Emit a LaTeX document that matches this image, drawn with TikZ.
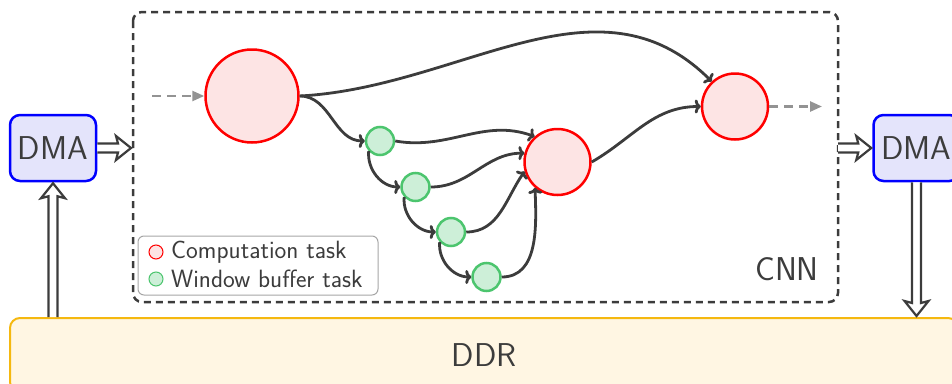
\documentclass[tikz,border=0pt]{standalone}
\usetikzlibrary{arrows.meta,calc}
\definecolor{ink}{HTML}{3C3C3C}
\definecolor{compfill}{HTML}{FDE4E4}
\definecolor{bufffill}{HTML}{CDEFD8}
\definecolor{buffline}{HTML}{4CC56E}
\definecolor{dmafill}{HTML}{E4E4FB}
\definecolor{ddrfill}{HTML}{FFF6E3}
\definecolor{ddrline}{HTML}{F5B80F}
\tikzset{
  bigfont/.style={font=\sffamily\fontsize{33}{38}\selectfont, text=ink},
  legfont/.style={font=\sffamily\fontsize{25}{28}\selectfont, text=ink},
  comp/.style={circle, draw=red, fill=compfill, line width=2.5pt, inner sep=0pt},
  buff/.style={circle, draw=buffline, fill=bufffill, line width=2.5pt, inner sep=0pt, minimum size=28pt},
  dmabox/.style={draw=blue, fill=dmafill, line width=2.5pt, rounded corners=10pt,
    minimum width=86pt, minimum height=66pt, bigfont},
  flow/.style={draw=ink, line width=2.8pt, -{To[length=6pt,width=14pt]}},
  extflow/.style={draw=gray!85, line width=2.5pt, dash pattern=on 9pt off 6pt,
    -{Triangle[length=12pt,width=10pt]}},
  hollow/.style={draw=ink, fill=white, line width=2.2pt, line join=miter},
}
% hollow block arrow from #1 to #2
\newcommand\blockarrow[2]{%
  \draw[hollow] let \p1=(#1), \p2=(#2),
      \n1={atan2(\y2-\y1,\x2-\x1)}, \n2={veclen(\x2-\x1,\y2-\y1)} in
    [shift={(\p1)}, rotate=\n1]
    (0pt,-4.5pt) -- (\n2-14pt,-4.5pt) -- (\n2-16pt,-12pt) -- (\n2-1pt,0pt)
    -- (\n2-16pt,12pt) -- (\n2-14pt,4.5pt) -- (0pt,4.5pt);}
\begin{document}
\begin{tikzpicture}[x=1pt, y=-1pt]
  \useasboundingbox (0,0) rectangle (952,383);
  \clip (0,0) rectangle (952,383);

  % memory
  \node[draw=ddrline, fill=ddrfill, line width=2pt, rounded corners=10pt,
        minimum width=948pt, minimum height=74pt, bigfont] (ddr) at (484,355) {DDR};

  % DMA engines
  \node[dmabox] (dmain) at (53,148) {DMA};
  \node[dmabox] (dmaout) at (916.5,148) {DMA};

  % CNN region
  \draw[ink, line width=2.5pt, dash pattern=on 7pt off 5pt, rounded corners=9pt]
    (133,12) rectangle (838,302);
  \node[bigfont] (cnn) at (787,269) {CNN};
  \coordinate (cnnin) at (132,148);
  \coordinate (cnnout) at (838,148);

  % tasks
  \node[comp, minimum size=93pt] (a) at (252,96) {};
  \node[comp, minimum size=66pt] (b) at (557.5,162) {};
  \node[comp, minimum size=66pt] (c) at (735,106.5) {};
  \node[buff] (g1) at (380,141) {};
  \node[buff] (g2) at (415.5,187) {};
  \node[buff] (g3) at (451,232) {};
  \node[buff] (g4) at (486.5,277) {};

  \coordinate (src) at (152,96);
  \coordinate (snk) at (822,106.5);
  \draw[extflow] (src) -- (a);
  \draw[extflow] (c) -- (snk);

  \draw[flow] (a.east) to[out=3,in=135] (c.133);
  \draw[flow] (a.east) to[out=0,in=180] (g1.west);
  \draw[flow] (g1.east) to[out=-10,in=160] (b.132);
  \draw[flow] (g2.east) to[out=0,in=180] (b.165);
  \draw[flow] (g3.east) to[out=0,in=235] (b.196);
  \draw[flow] (g4.east) to[out=0,in=-88] (b.229);
  \draw[flow] (g1.222) to[out=-95,in=180] (g2.west);
  \draw[flow] (g2.222) to[out=-95,in=180] (g3.west);
  \draw[flow] (g3.222) to[out=-95,in=180] (g4.west);
  \draw[flow] (b.east) to[out=30,in=180] (c.west);

  % legend
  \draw[gray!70, line width=1pt, fill=white, rounded corners=6pt] (138,236) rectangle (378,295);
  \node[circle, draw=red, fill=compfill, line width=1pt, minimum size=14pt, inner sep=0pt] (lc) at (156,252) {};
  \node[circle, draw=buffline, fill=bufffill, line width=1pt, minimum size=14pt, inner sep=0pt] (lb) at (156,279) {};
  \node[legfont, anchor=west, inner sep=0pt] at (171,252) {Computation task};
  \node[legfont, anchor=west, inner sep=0pt] at (171,279) {Window buffer task};

  % data movement
  \coordinate (ddrl) at (ddr.north -| dmain.south);
  \coordinate (ddrr) at (ddr.north -| dmaout.south);
  \blockarrow{dmain.east}{cnnin}
  \blockarrow{cnnout}{dmaout.west}
  \blockarrow{ddrl}{dmain.south}
  \blockarrow{dmaout.south}{ddrr}
\end{tikzpicture}
\end{document}
